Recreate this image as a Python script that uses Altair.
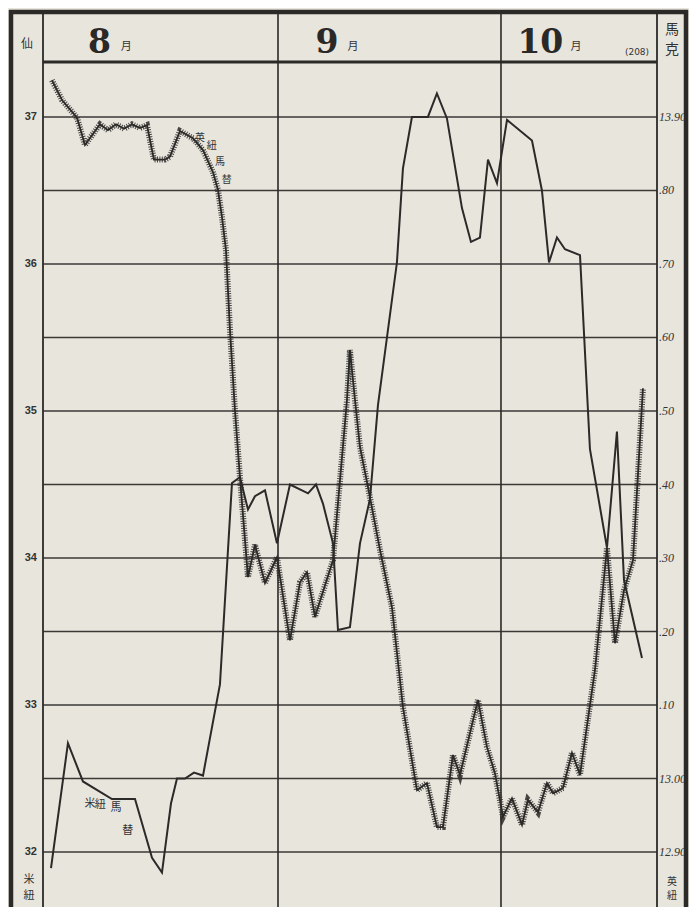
import altair as alt
import pandas as pd

# ---------------- data ----------------
# 米紐馬替 : plain line, cents (left axis); x = day counted from 1 Aug
us_day = [0.46, 2.74, 4.76, 8.66, 11.76, 14.05, 15.39, 16.60, 17.41, 18.49,
          19.70, 20.91, 23.19, 24.81, 25.88, 26.96, 27.90, 29.25, 30.86, 32.61,
          35.04, 36.11, 37.05, 38.40, 39.07, 40.68, 42.03, 43.37, 44.45, 47.00,
          47.81, 49.02, 51.17, 52.38, 53.73, 55.75, 56.96, 58.17, 59.25, 60.46,
          61.81, 65.17, 66.51, 67.46, 68.53, 69.61, 71.63, 72.97, 75.26, 76.60,
          77.55, 79.97]
us_cents = [31.89, 32.74, 32.48, 32.36, 32.36, 31.96, 31.86, 32.33, 32.50, 32.50,
            32.54, 32.52, 33.14, 34.51, 34.55, 34.33, 34.42, 34.46, 34.10, 34.50,
            34.44, 34.50, 34.37, 34.10, 33.51, 33.53, 34.10, 34.40, 35.04, 36.01,
            36.65, 37.00, 37.00, 37.16, 36.99, 36.38, 36.15, 36.18, 36.71, 36.55,
            36.98, 36.84, 36.50, 36.01, 36.18, 36.10, 36.06, 34.74, 34.07, 34.86,
            33.85, 33.32]

# 英紐馬替 : serrated line, marks (right axis)
uk_day = [0.59, 1.94, 3.96, 5.03, 7.05, 8.13, 9.20, 10.28, 11.35, 12.43,
          13.37, 14.31, 15.79, 16.47, 17.81, 19.56, 20.91, 22.25, 22.92, 23.46,
          24.00, 24.54, 25.21, 25.88, 26.96, 27.90, 29.25, 30.86, 32.61, 33.96,
          34.90, 35.98, 38.40, 40.28, 40.68, 41.36, 42.03, 43.10, 44.72, 46.33,
          47.81, 49.70, 51.04, 52.38, 53.19, 54.54, 55.48, 57.90, 59.11, 60.19,
          61.27, 62.48, 63.83, 64.63, 65.98, 67.19, 68.00, 69.34, 70.55, 71.63,
          73.65, 75.26, 76.34, 77.55, 78.76, 80.10]
uk_marks = [13.950, 13.923, 13.899, 13.862, 13.890, 13.882, 13.890, 13.884, 13.890, 13.885,
            13.889, 13.842, 13.842, 13.846, 13.881, 13.871, 13.855, 13.825, 13.801, 13.764,
            13.719, 13.610, 13.501, 13.410, 13.274, 13.318, 13.266, 13.301, 13.188, 13.267,
            13.281, 13.220, 13.297, 13.515, 13.583, 13.515, 13.451, 13.397, 13.311, 13.233,
            13.097, 12.984, 12.994, 12.934, 12.934, 13.032, 13.005, 13.107, 13.043, 13.007,
            12.948, 12.973, 12.937, 12.971, 12.954, 12.994, 12.980, 12.987, 13.035, 13.005,
            13.148, 13.314, 13.184, 13.256, 13.297, 13.531]

grid_cents = [32, 32.5, 33, 33.5, 34, 34.5, 35, 35.5, 36, 36.5, 37]
left_tick_values = [32, 33, 34, 35, 36, 37]
left_tick_labels = ["32", "33", "34", "35", "36", "37"]
right_tick_values = [12.9, 13.0, 13.1, 13.2, 13.3, 13.4, 13.5, 13.6, 13.7, 13.8, 13.9]
right_tick_labels = ["12.90", "13.00", ".10", ".20", ".30", ".40", ".50", ".60", ".70", ".80", "13.90"]

month_starts = [31, 61]
month_digits = ["8", "9", "10"]
month_digit_day = [7.0, 37.6, 66.3]
month_kanji_day = [10.6, 41.1, 71.1]

us_note_chars = ["米", "紐", "馬", "替"]
us_note_day = [5.7, 7.1, 9.2, 10.8]
us_note_cents = [32.33, 32.32, 32.30, 32.14]

uk_note_chars = ["英", "紐", "馬", "替"]
uk_note_day = [20.5, 22.1, 23.2, 24.1]
uk_note_marks = [13.871, 13.861, 13.839, 13.814]

# ---------------- styling ----------------
INK = "#2b2a28"
PAPER = "#e8e5dd"
W, H = 614, 845
X_DOMAIN = [-0.616, 81.99]
CENT_DOMAIN = [31.626, 37.374]
MARK_DOMAIN = [12.8252, 13.9748]
CJK = "Noto Sans CJK JP"

x_scale = alt.Scale(domain=X_DOMAIN, nice=False, zero=False)
cent_scale = alt.Scale(domain=CENT_DOMAIN, nice=False, zero=False)
mark_scale = alt.Scale(domain=MARK_DOMAIN, nice=False, zero=False)

us = pd.DataFrame({"day": us_day, "cents": us_cents})
uk = pd.DataFrame({"day": uk_day, "marks": uk_marks})
one = alt.Data(values=[{}])

X = alt.X("day:Q", scale=x_scale, axis=None)
YC = alt.Y("cents:Q", scale=cent_scale, axis=None)
YM = alt.Y("marks:Q", scale=mark_scale, axis=None)

# ---- cents-scale group ----
grid = alt.Chart(pd.DataFrame({"cents": grid_cents})).mark_rule(
    color="#3a3936", strokeWidth=1.4).encode(y=YC, x=alt.value(0), x2=alt.value(W))

left_labels = alt.Chart(pd.DataFrame({"cents": left_tick_values, "t": left_tick_labels})).mark_text(
    font="Liberation Sans", fontWeight="bold", fontSize=11, color="#333",
    align="right", baseline="middle").encode(y=YC, x=alt.value(-6), text="t:N")

us_line = alt.Chart(us).mark_line(color=INK, strokeWidth=2.0).encode(x=X, y=YC)

us_note = alt.Chart(pd.DataFrame({"c": us_note_chars, "day": us_note_day,
                                  "cents": us_note_cents})).mark_text(
    font=CJK, fontSize=11, color="#333", align="center", baseline="middle"
).encode(x=X, y=YC, text="c:N")

cents_group = alt.layer(grid, left_labels, us_line, us_note)

# ---- marks-scale group ----
right_labels = alt.Chart(pd.DataFrame({"marks": right_tick_values, "t": right_tick_labels})).mark_text(
    font="Liberation Serif", fontStyle="italic", fontSize=12, color="#333",
    align="left", baseline="middle").encode(y=YM, x=alt.value(W + 2), text="t:N")

uk_base = alt.Chart(uk).mark_line(color=INK, strokeWidth=1.8).encode(x=X, y=YM)
uk_hatch = alt.Chart(uk).mark_line(color=INK, strokeWidth=6, strokeDash=[1, 1.4],
                                   strokeCap="butt", opacity=0.85).encode(x=X, y=YM)

uk_note = alt.Chart(pd.DataFrame({"c": uk_note_chars, "day": uk_note_day,
                                  "marks": uk_note_marks})).mark_text(
    font=CJK, fontSize=10, color="#333", align="center", baseline="middle"
).encode(x=X, y=YM, text="c:N")

marks_group = alt.layer(right_labels, uk_base, uk_hatch, uk_note)

# ---- frame / header decorations ----
def hrule(y, x1, x2, w):
    return alt.Chart(one).mark_rule(color=INK, strokeWidth=w).encode(
        x=alt.value(x1), x2=alt.value(x2), y=alt.value(y))

def vrule(x, y1, y2, w):
    return alt.Chart(one).mark_rule(color=INK, strokeWidth=w).encode(
        x=alt.value(x), y=alt.value(y1), y2=alt.value(y2))

frame = [
    vrule(-32, -52, H, 4.5),       # outer left
    vrule(643, -52, H, 4.5),       # outer right
    hrule(-50, -34, 645, 4.5),     # outer top
    hrule(0, 0, W, 3.2),           # header rule
    vrule(0, -50, H, 1.8),         # left column line
    vrule(W, -50, H, 1.8),         # right column line
]

month_lines = alt.Chart(pd.DataFrame({"day": month_starts})).mark_rule(
    color=INK, strokeWidth=1.6).encode(x=X, y=alt.value(-50), y2=alt.value(H))

digits = alt.Chart(pd.DataFrame({"t": month_digits, "day": month_digit_day})).mark_text(
    font="DejaVu Serif", fontWeight="bold", fontSize=33, color="#2a2927",
    align="center", baseline="alphabetic").encode(x=X, y=alt.value(-9), text="t:N")

kanji = alt.Chart(pd.DataFrame({"t": ["月"] * 3, "day": month_kanji_day})).mark_text(
    font=CJK, fontSize=11, color="#333", align="center", baseline="middle"
).encode(x=X, y=alt.value(-15), text="t:N")

def label(txt, x, y, size, font=CJK):
    return alt.Chart(one).mark_text(font=font, fontSize=size, color="#333",
                                    align="center", baseline="middle").encode(
        x=alt.value(x), y=alt.value(y), text=alt.value(txt))

labels = [
    label("仙", -16, -18, 12),
    label("馬", 629, -32, 14),
    label("克", 629, -12, 14),
    label("(208)", 594, -10, 9, "DejaVu Sans"),
    label("米", -14, 818, 11),
    label("紐", -14, 834, 11),
    label("英", 629, 820, 10),
    label("紐", 629, 834, 10),
]

deco = alt.layer(*frame, month_lines, digits, kanji, *labels)

chart = alt.layer(cents_group, marks_group, deco).resolve_scale(
    y="independent"
).properties(
    width=W, height=H,
    autosize=alt.AutoSizeParams(type="none"),
    padding={"left": 35, "top": 54, "right": 32, "bottom": 0},
    background=PAPER,
).configure_view(stroke=None)

chart.save("out.html", embed_options={"renderer": "svg", "actions": False})
